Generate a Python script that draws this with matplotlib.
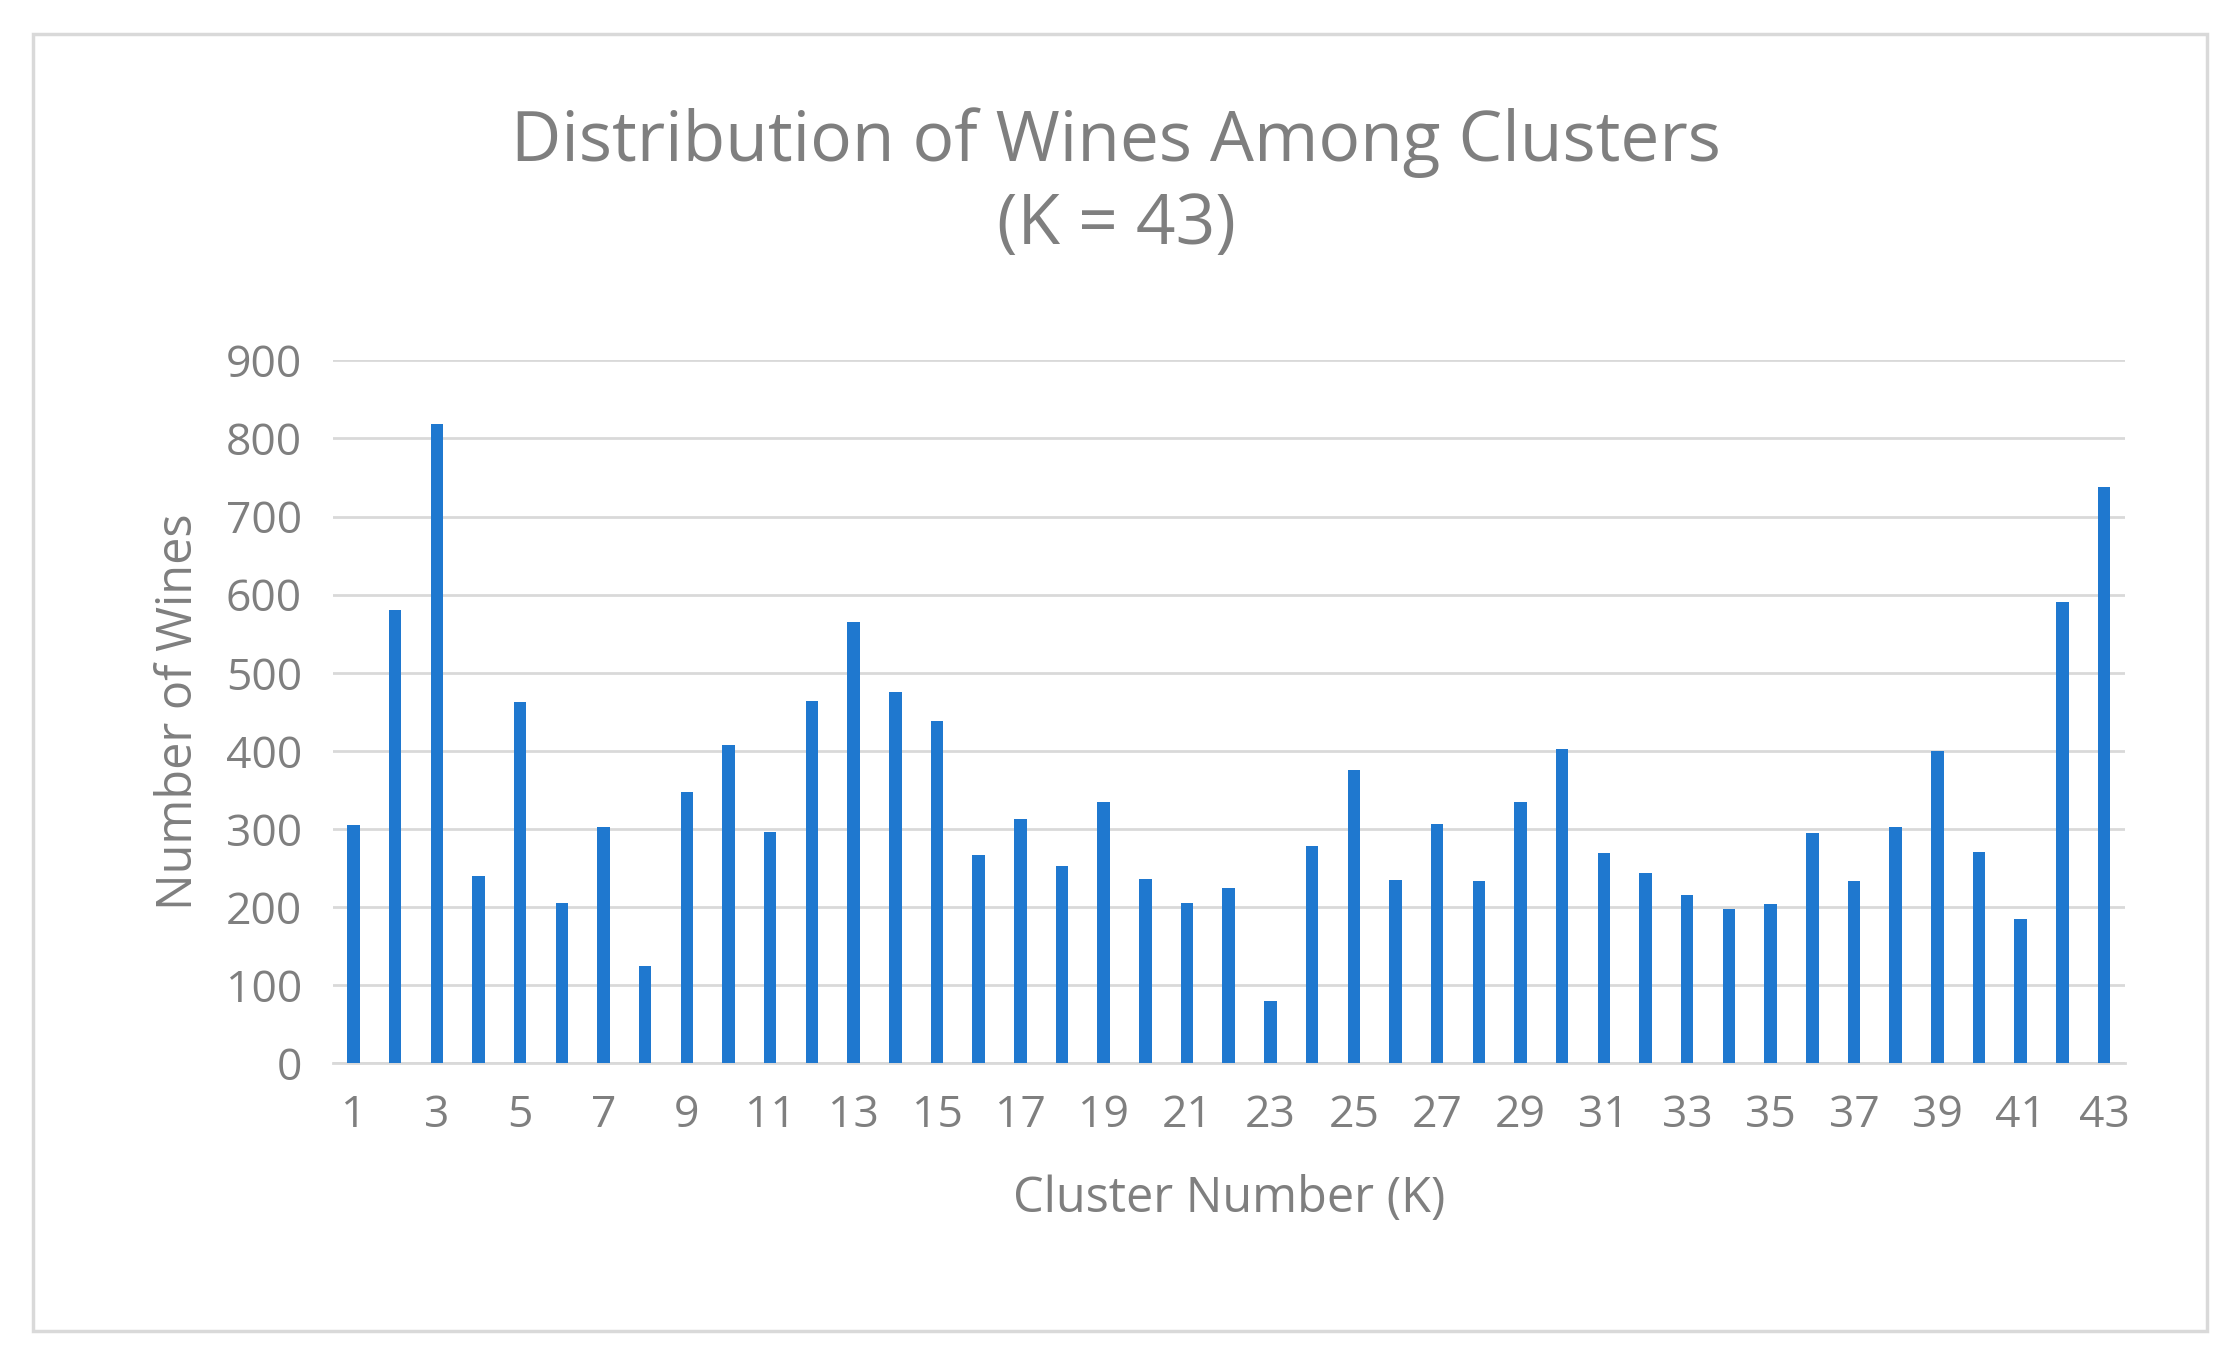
import matplotlib
matplotlib.use("Agg")
import matplotlib.pyplot as plt
from matplotlib.patches import Rectangle

clusters = list(range(1, 44))
counts = [305, 580, 818, 240, 462, 205, 302, 124, 347, 407, 296, 464, 565, 476, 438,
          267, 313, 253, 335, 236, 205, 224, 80, 278, 376, 235, 307, 233, 335, 402,
          269, 244, 216, 198, 204, 295, 233, 302, 400, 271, 185, 591, 738]
yticks = [0, 100, 200, 300, 400, 500, 600, 700, 800, 900]
xtick_labels = [str(k) for k in clusters if k % 2 == 1]

plt.rcParams['font.family'] = ['Open Sans', 'DejaVu Sans']
gray = '#7f7f7f'
fig = plt.figure(figsize=(22.32, 13.65), dpi=100)
fig.patches.append(Rectangle((0.015, 0.025), 0.974, 0.95, transform=fig.transFigure,
                             fill=False, edgecolor='#d9d9d9', linewidth=2.5))
ax = fig.add_axes([0.149, 0.221, 0.803, 0.515])
ax.bar(clusters, counts, width=0.3, color='#1f78cf', zorder=3)
ax.set_xlim(0.5, 43.5)
ax.set_ylim(0, 900)
ax.set_yticks(yticks)
ax.set_xticks([k for k in clusters if k % 2 == 1])
ax.set_xticklabels(xtick_labels)
ax.grid(axis='y', color='#d9d9d9', linewidth=2, zorder=0)
for s in ['top', 'right', 'left']:
    ax.spines[s].set_visible(False)
ax.spines['bottom'].set_color('#d9d9d9')
ax.spines['bottom'].set_linewidth(2)
ax.tick_params(length=0, labelsize=32, colors=gray, pad=22)
ax.set_xlabel('Cluster Number (K)', fontsize=35, color=gray, labelpad=26)
ax.set_ylabel('Number of Wines', fontsize=35, color=gray, labelpad=16)
fig.text(0.5, 0.865, 'Distribution of Wines Among Clusters\n(K = 43)', ha='center',
         va='center', fontsize=50, color=gray, linespacing=1.25)
fig.savefig('out.png', dpi=100)
